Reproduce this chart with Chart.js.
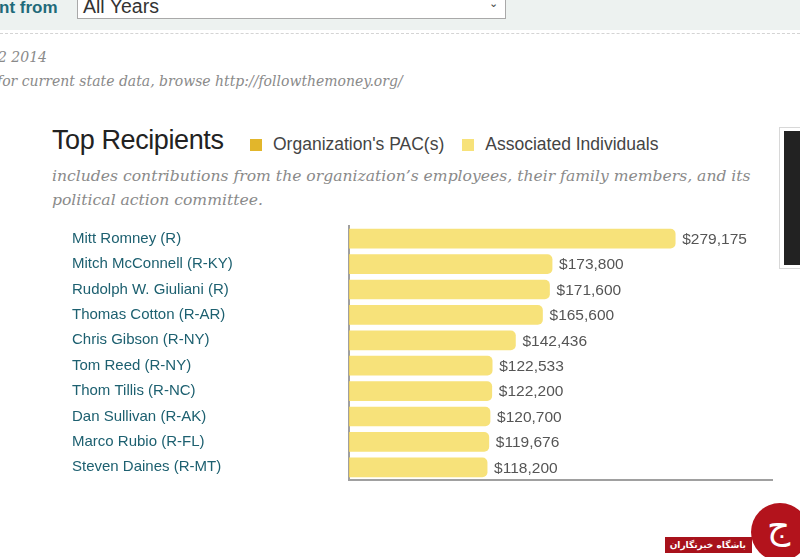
<!DOCTYPE html>
<html>
<head>
<meta charset="utf-8">
<script src="https://cdn.jsdelivr.net/npm/chart.js@4/dist/chart.umd.min.js"></script>
<style>
  body { margin: 0; width: 800px; height: 557px; overflow: hidden; background: #fff; position: relative; font-family: "Liberation Sans", Arial, sans-serif; }
  .abs { position: absolute; white-space: nowrap; }
  #topband { left: 0; top: 0; width: 800px; height: 30px; background: #edf2f0; }
  #amt { left: -1px; top: -2px; font-size: 17px; font-weight: bold; color: #1f6b7a; }
  #sel { left: 77px; top: -6px; width: 427px; height: 23px; background: #fff; border: 1px solid #a9a9a9; font-size: 19.5px; color: #333; }
  #sel span { position: absolute; left: 5px; top: 0px; }
  #sel i { position: absolute; right: 7px; top: 2px; font-style: normal; font-size: 11px; color: #444; }
  #dash { left: 0; top: 33px; width: 800px; border-top: 1px dashed #d4d4d4; }
  .note { font-family: "DejaVu Serif", Georgia, serif; font-style: italic; color: #8a8a8a; font-size: 14px; }
  #title { left: 52px; top: 125px; font-size: 27px; color: #222; letter-spacing: -0.4px; }
  #legend { left: 250px; top: 134px; font-size: 17.5px; color: #444; }
  #legend span.sw { display: inline-block; width: 12px; height: 12px; vertical-align: -1px; margin-right: 11px; }
  #legend span.it { margin-right: 18px; }
  #sub { left: 52px; top: 164px; font-family: "DejaVu Serif", Georgia, serif; font-style: italic; color: #8a8a8a; font-size: 15.6px; line-height: 24px; }
  #sidebox { left: 779px; top: 127px; width: 30px; height: 140px; border: 1px solid #d8d8d8; background: #fff; }
  #sidebox div { position: absolute; left: 4px; top: 3px; right: 0; bottom: 3px; background: #222; }
  #chartwrap { left: 0; top: 214px; width: 800px; height: 278px; }
  #logo { left: 751px; top: 503px; width: 58px; height: 58px; border-radius: 50%; background: #b3131c; }
  #logo span { position: absolute; left: 16px; top: 2px; color: #fff; font-size: 36px; font-family: "DejaVu Sans", sans-serif; }
  #banner { left: 665px; top: 537px; width: 81px; height: 16px; background: #a8121b; color: #fff; font-family: "DejaVu Sans", sans-serif; font-size: 9px; font-weight: bold; line-height: 16px; text-align: right; padding-right: 6px; }
</style>
</head>
<body>
<div class="abs" id="topband"></div>
<div class="abs" id="amt">nt from</div>
<div class="abs" id="sel"><span>All Years</span><i>&#8964;</i></div>
<div class="abs" id="dash"></div>
<div class="abs note" style="left:-2px; top:49px;">2 2014</div>
<div class="abs note" style="left:-3px; top:73px;">for current state data, browse http://followthemoney.org/</div>

<div class="abs" id="title">Top Recipients</div>
<div class="abs" id="legend"></div>
<div class="abs" id="sub">includes contributions from the organization’s employees, their family members, and its<br>political action committee.</div>
<div class="abs" id="sidebox"><div></div></div>

<div class="abs" id="chartwrap"><canvas id="chart"></canvas></div>

<div class="abs" id="banner">باشگاه خبرنگاران</div>
<div class="abs" id="logo"><span>ج</span></div>

<script>
const recipients = [
  "Mitt Romney (R)",
  "Mitch McConnell (R-KY)",
  "Rudolph W. Giuliani (R)",
  "Thomas Cotton (R-AR)",
  "Chris Gibson (R-NY)",
  "Tom Reed (R-NY)",
  "Thom Tillis (R-NC)",
  "Dan Sullivan (R-AK)",
  "Marco Rubio (R-FL)",
  "Steven Daines (R-MT)"
];
const pacAmounts = [0, 0, 0, 0, 0, 0, 0, 0, 0, 0];
const individualAmounts = [279175, 173800, 171600, 165600, 142436, 122533, 122200, 120700, 119676, 118200];
const seriesNames = ["Organization's PAC(s)", "Associated Individuals"];
const seriesColors = ["#e2b62b", "#f7e27a"];

// legend in html, next to the title
document.getElementById('legend').innerHTML = seriesNames.map((n, i) =>
  `<span class="sw" style="background:${seriesColors[i]}"></span><span class="it">${n}</span>`
).join('');

// dollar amount at the end of each bar
const amountLabels = {
  id: 'amountLabels',
  afterDatasetsDraw(chart) {
    const ctx = chart.ctx;
    const last = chart.getDatasetMeta(chart.data.datasets.length - 1);
    ctx.save();
    ctx.font = '15.5px "Liberation Sans", Arial, sans-serif';
    ctx.fillStyle = '#555';
    ctx.textBaseline = 'middle';
    last.data.forEach((bar, i) => {
      const total = pacAmounts[i] + individualAmounts[i];
      ctx.fillText('$' + total.toLocaleString('en-US'), bar.x + 7, bar.y + 1);
    });
    ctx.restore();
  }
};

new Chart(document.getElementById('chart'), {
  type: 'bar',
  data: {
    labels: recipients,
    datasets: [
      { label: seriesNames[0], data: pacAmounts, backgroundColor: seriesColors[0], barThickness: 19, borderRadius: 0 },
      { label: seriesNames[1], data: individualAmounts, backgroundColor: seriesColors[1], barThickness: 19, borderRadius: 5 }
    ]
  },
  options: {
    indexAxis: 'y',
    responsive: true,
    maintainAspectRatio: false,
    animation: false,
    layout: { padding: { left: 72, top: 6, right: 28, bottom: 10 } },
    plugins: { legend: { display: false }, tooltip: { enabled: false } },
    scales: {
      x: {
        stacked: true,
        min: 0,
        max: 362000,
        ticks: { display: false },
        grid: { display: false },
        border: { display: true, color: '#a0a0a0', width: 2 },
        afterFit: s => { s.height = 2; }
      },
      y: {
        stacked: true,
        grid: { display: false },
        border: { display: true, color: '#a0a0a0', width: 2 },
        ticks: {
          crossAlign: 'far',
          color: '#1d6070',
          font: { family: '"Liberation Sans", Arial, sans-serif', size: 15 }
        },
        afterFit: s => { s.width = 277; }
      }
    }
  },
  plugins: [amountLabels]
});
</script>
</body>
</html>
